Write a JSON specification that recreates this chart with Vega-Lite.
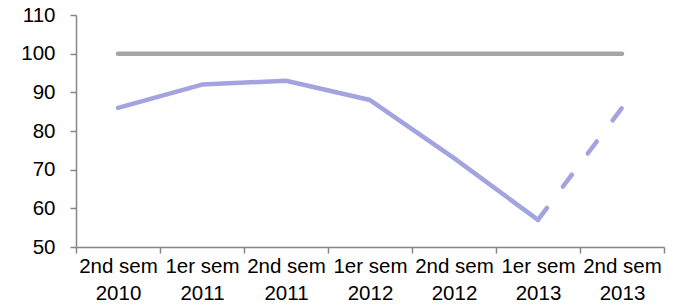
{
  "$schema": "https://vega.github.io/schema/vega-lite/v6.json",
  "autosize": {"type": "none"},
  "width": 588,
  "height": 232,
  "padding": {"left": 76, "top": 15, "right": 15, "bottom": 61},
  "background": "white",
  "config": {
    "view": {"stroke": null},
    "axis": {"grid": false, "title": null}
  },
  "data": {"values": [
    {"period": "2nd sem 2010", "series": "ref", "value": 100},
    {"period": "1er sem 2011", "series": "ref", "value": 100},
    {"period": "2nd sem 2011", "series": "ref", "value": 100},
    {"period": "1er sem 2012", "series": "ref", "value": 100},
    {"period": "2nd sem 2012", "series": "ref", "value": 100},
    {"period": "1er sem 2013", "series": "ref", "value": 100},
    {"period": "2nd sem 2013", "series": "ref", "value": 100},
    {"period": "2nd sem 2010", "series": "actual", "value": 86},
    {"period": "1er sem 2011", "series": "actual", "value": 92},
    {"period": "2nd sem 2011", "series": "actual", "value": 93},
    {"period": "1er sem 2012", "series": "actual", "value": 88},
    {"period": "2nd sem 2012", "series": "actual", "value": 73},
    {"period": "1er sem 2013", "series": "actual", "value": 57},
    {"period": "1er sem 2013", "series": "forecast", "value": 57},
    {"period": "2nd sem 2013", "series": "forecast", "value": 86}
  ]},
  "encoding": {
    "x": {
      "field": "period", "type": "ordinal", "sort": null, "bandPosition": 0.5,
      "scale": {"type": "band", "paddingInner": 0, "paddingOuter": 0},
      "axis": {"labelAngle": 0, "tickBand": "extent", "tickSize": 6, "labelPadding": 3, "labelLineHeight": 27,
        "labelFont": "Liberation Sans", "labelFontSize": 20.5, "labelColor": "#000000", "domainColor": "#868686", "tickColor": "#868686", "domainWidth": 1.5, "tickWidth": 1.5, "labelOverlap": false,
        "labelExpr": "[slice(datum.label,0,7), slice(datum.label,8)]"}
    },
    "y": {
      "field": "value", "type": "quantitative",
      "scale": {"domain": [50, 110], "nice": false, "zero": false},
      "axis": {"values": [50, 60, 70, 80, 90, 100, 110], "tickSize": 6, "labelPadding": 15,
        "labelFont": "Liberation Sans", "labelFontSize": 20.5, "labelColor": "#000000", "domainColor": "#868686", "tickColor": "#868686", "domainWidth": 1.5, "tickWidth": 1.5}
    }
  },
  "layer": [
    {"transform": [{"filter": "datum.series === 'ref'"}],
     "mark": {"type": "line", "color": "#a5a5a5", "strokeWidth": 4.5, "strokeCap": "round"}},
    {"transform": [{"filter": "datum.series === 'actual'"}],
     "mark": {"type": "line", "color": "#a3a3e0", "strokeWidth": 4.5, "strokeCap": "round", "strokeJoin": "round"}},
    {"transform": [{"filter": "datum.series === 'forecast'"}],
     "mark": {"type": "line", "color": "#a3a3e0", "strokeWidth": 4.5, "strokeCap": "round", "strokeDash": [15, 26.5]}}
  ]
}
